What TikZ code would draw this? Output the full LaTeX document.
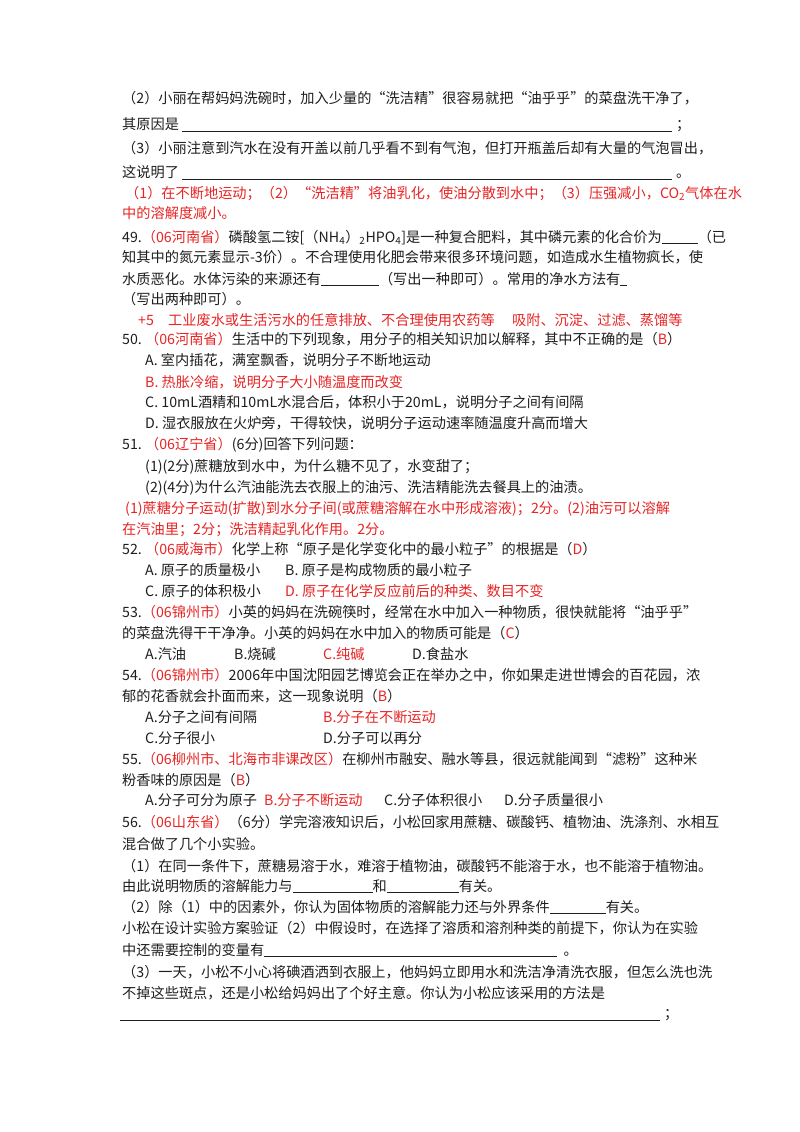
\documentclass[tikz,border=0pt]{standalone}
\usepackage{fontspec}
\setmainfont{Noto Sans CJK SC}
\definecolor{ans}{RGB}{232,36,36}
\definecolor{ink}{RGB}{30,30,30}
\newcommand{\R}[1]{\textcolor{ans}{#1}}
\tikzset{ln/.style={anchor=base west,inner sep=0pt,text=ink,font=\fontsize{14.2}{14}\selectfont},
 blank/.style={draw=ink,line width=0.6pt}}
\newcommand{\T}[3]{\node[ln] at (#1,#2+5) {#3};}
\newcommand{\U}[3]{\draw[blank] (#1,#3+7) -- (#2,#3+7);}
\begin{document}
\begin{tikzpicture}[x=1pt,y=-1pt]
\useasboundingbox[fill=white] (0,0) rectangle (800,1132);
\T{122}{98}{（2）小丽在帮妈妈洗碗时，加入少量的“洗洁精”很容易就把“油乎乎”的菜盘洗干净了，}
\T{122}{124}{其原因是}\U{182}{672}{124}\T{676}{124}{；}
\T{122}{148}{（3）小丽注意到汽水在没有开盖以前几乎看不到有气泡，但打开瓶盖后却有大量的气泡冒出，}
\T{122}{172}{这说明了}\U{182}{672}{172}\T{676}{172}{。}
\T{125}{193}{\R{（1）在不断地运动；（2）“洗洁精”将油乳化，使油分散到水中；（3）压强减小，CO\textsubscript{2}气体在水}}
\T{122}{213}{\R{中的溶解度减小。}}
\T{122}{237}{49.\R{（06河南省）}磷酸氢二铵[（NH\textsubscript{4}）\textsubscript{2}HPO\textsubscript{4}]是一种复合肥料，其中磷元素的化合价为\rule[-2pt]{36pt}{0.6pt}（已}
\T{122}{257}{知其中的氮元素显示-3价）。不合理使用化肥会带来很多环境问题，如造成水生植物疯长，使}
\node[ln] (w) at (122,284) {水质恶化。水体污染的来源还有\rule[-2pt]{58pt}{0.6pt}（写出一种即可）。常用的净水方法有\rule[-2pt]{7pt}{0.6pt}};
\T{122}{299}{（写出两种即可）。}
\T{138}{320}{\R{+5\quad 工业废水或生活污水的任意排放、不合理使用农药等\quad\ 吸附、沉淀、过滤、蒸馏等}}
\T{122}{339}{50.\ \R{（06河南省）}生活中的下列现象，用分子的相关知识加以解释，其中不正确的是（\R{B}）}
\T{145}{360}{A.\ 室内插花，满室飘香，说明分子不断地运动}
\T{145}{382}{\R{B.\ 热胀冷缩，说明分子大小随温度而改变}}
\T{145}{402}{C.\ 10mL酒精和10mL水混合后，体积小于20mL，说明分子之间有间隔}
\T{145}{423}{D.\ 湿衣服放在火炉旁，干得较快，说明分子运动速率随温度升高而增大}
\T{122}{444}{51.\ \R{（06辽宁省）}(6分)回答下列问题：}
\T{145}{466}{(1)(2分)蔗糖放到水中，为什么糖不见了，水变甜了；}
\T{145}{487}{(2)(4分)为什么汽油能洗去衣服上的油污、洗洁精能洗去餐具上的油渍。}
\T{125}{508}{\R{(1)蔗糖分子运动(扩散)到水分子间(或蔗糖溶解在水中形成溶液)；2分。(2)油污可以溶解}}
\T{122}{529}{\R{在汽油里；2分；洗洁精起乳化作用。2分。}}
\T{122}{549}{52.\ \R{（06威海市）}化学上称“原子是化学变化中的最小粒子”的根据是（\R{D}）}
\T{145}{570}{A.\ 原子的质量极小}\T{285}{570}{B.\ 原子是构成物质的最小粒子}
\T{145}{591}{C.\ 原子的体积极小}\T{285}{591}{\R{D.\ 原子在化学反应前后的种类、数目不变}}
\T{122}{612}{53.\R{（06锦州市）}小英的妈妈在洗碗筷时，经常在水中加入一种物质，很快就能将“油乎乎”}
\T{122}{633}{的菜盘洗得干干净净。小英的妈妈在水中加入的物质可能是（\R{C}）}
\T{145}{654}{A.汽油}\T{234}{654}{B.烧碱}\T{323}{654}{\R{C.纯碱}}\T{412}{654}{D.食盐水}
\T{122}{675}{54.\R{（06锦州市）}2006年中国沈阳园艺博览会正在举办之中，你如果走进世博会的百花园，浓}
\T{122}{696}{郁的花香就会扑面而来，这一现象说明（\R{B}）}
\T{145}{717}{A.分子之间有间隔}\T{323}{717}{\R{B.分子在不断运动}}
\T{145}{738}{C.分子很小}\T{323}{738}{D.分子可以再分}
\T{122}{759}{55.\R{（06柳州市、北海市非课改区）}在柳州市融安、融水等县，很远就能闻到“滤粉”这种米}
\T{122}{780}{粉香味的原因是（\R{B}）}
\T{145}{800}{A.分子可分为原子}\T{264}{800}{\R{B.分子不断运动}}\T{384}{800}{C.分子体积很小}\T{504}{800}{D.分子质量很小}
\T{122}{822}{56.\R{（06山东省）}（6分）学完溶液知识后，小松回家用蔗糖、碳酸钙、植物油、洗涤剂、水相互}
\T{122}{844}{混合做了几个小实验。}
\T{122}{866}{（1）在同一条件下，蔗糖易溶于水，难溶于植物油，碳酸钙不能溶于水，也不能溶于植物油。}
\node[ln] (b1) at (122,891) {由此说明物质的溶解能力与\rule[-2pt]{80pt}{0.6pt}和\rule[-2pt]{72pt}{0.6pt}有关。};
\node[ln] (b2) at (122,912) {（2）除（1）中的因素外，你认为固体物质的溶解能力还与外界条件\rule[-2pt]{56pt}{0.6pt}有关。};
\T{122}{928}{小松在设计实验方案验证（2）中假设时，在选择了溶质和溶剂种类的前提下，你认为在实验}
\node[ln] (b3) at (122,955) {中还需要控制的变量有\rule[-2pt]{293pt}{0.6pt}\ \ 。};
\T{122}{972}{（3）一天，小松不小心将碘酒洒到衣服上，他妈妈立即用水和洗洁净清洗衣服，但怎么洗也洗}
\T{122}{993}{不掉这些斑点，还是小松给妈妈出了个好主意。你认为小松应该采用的方法是}
\U{120}{660}{1013}\T{664}{1013}{；}
\end{tikzpicture}
\end{document}
